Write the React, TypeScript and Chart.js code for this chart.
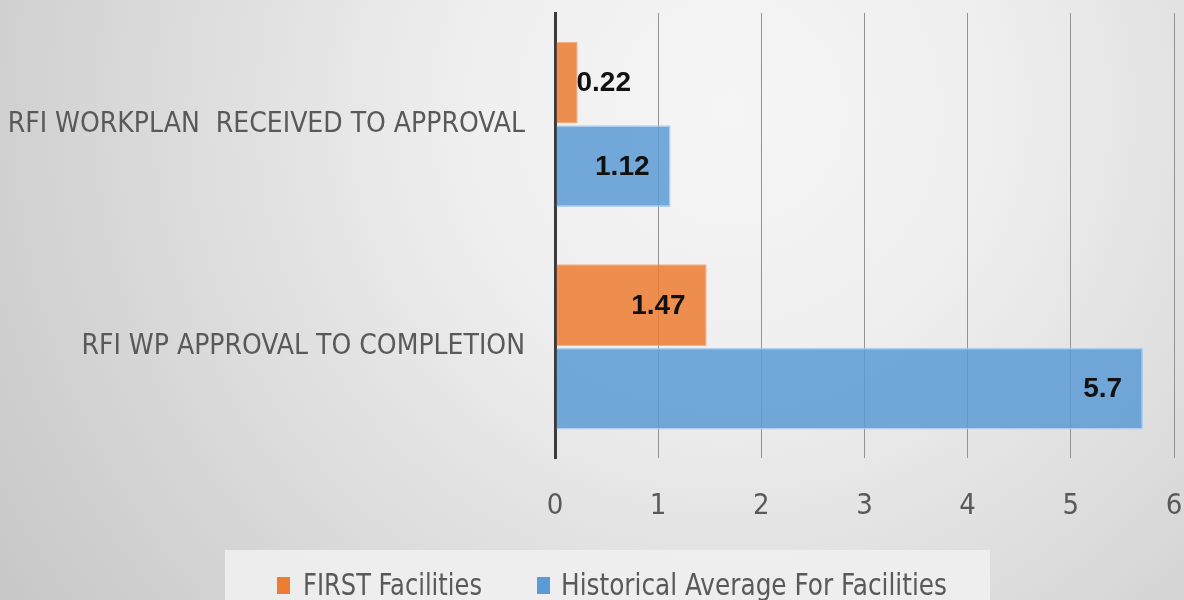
import React, { useEffect, useRef } from "react";
import { Chart, registerables } from "chart.js";

Chart.register(...registerables);

const categories = ["RFI WORKPLAN  RECEIVED TO APPROVAL", "RFI WP APPROVAL TO COMPLETION"];
const firstFacilities = [0.22, 1.47];
const historicalAverage = [1.12, 5.7];
const seriesNames = ["FIRST Facilities", "Historical Average For Facilities"];
const xTicks = [0, 1, 2, 3, 4, 5, 6];

const NARROW = "'Liberation Sans Narrow', 'DejaVu Sans Condensed', sans-serif";

const bgPlugin = {
  id: "bgGrad",
  beforeDraw(chart: any) {
    const { ctx, width, height } = chart;
    ctx.save();
    const g = ctx.createRadialGradient(730, 110, 0, 730, 110, 860);
    g.addColorStop(0, "#f5f5f5");
    g.addColorStop(0.3, "#efefef");
    g.addColorStop(1, "#c8c8c8");
    ctx.fillStyle = g;
    ctx.fillRect(0, 0, width, height);
    ctx.restore();
  },
};

const labelPlugin = {
  id: "barLabels",
  afterDatasetsDraw(chart: any) {
    const { ctx } = chart;
    ctx.save();
    ctx.font = "bold 28px 'Liberation Sans', Arial, sans-serif";
    ctx.fillStyle = "#111111";
    ctx.textBaseline = "middle";
    chart.data.datasets.forEach((ds: any, di: number) => {
      const meta = chart.getDatasetMeta(di);
      meta.data.forEach((el: any, i: number) => {
        const txt = String(ds.data[i]);
        const w = ctx.measureText(txt).width;
        const right = el.x - 21;
        let left = right - w;
        if (left < el.base + 20) left = el.base + 20;
        ctx.textAlign = "left";
        ctx.fillText(txt, left, el.y + 1);
      });
    });
    ctx.restore();
  },
};

const legendPlugin = {
  id: "customLegend",
  afterDraw(chart: any) {
    const { ctx } = chart;
    ctx.save();
    ctx.fillStyle = "rgba(240,240,240,0.9)";
    ctx.fillRect(225, 550, 765, 60);
    const markers = [277, 537];
    const texts = [303, 561];
    const targetW = [179, 386];
    chart.data.datasets.forEach((ds: any, di: number) => {
      ctx.fillStyle = ds.legendColor;
      ctx.fillRect(markers[di], 577, 13, 17);
      ctx.fillStyle = "#595959";
      ctx.font = `30px ${NARROW}`;
      ctx.textBaseline = "alphabetic";
      ctx.textAlign = "left";
      const w = ctx.measureText(ds.label).width;
      ctx.save();
      ctx.translate(texts[di], 595);
      ctx.scale(targetW[di] / w, 1);
      ctx.fillText(ds.label, 0, 0);
      ctx.restore();
    });
    ctx.restore();
  },
};

export default function App() {
  const ref = useRef<HTMLCanvasElement | null>(null);
  useEffect(() => {
    document.body.style.margin = "0";
    if (!ref.current) return;
    const chart = new Chart(ref.current, {
      type: "bar",
      data: {
        labels: categories,
        datasets: [
          {
            label: seriesNames[0],
            data: firstFacilities,
            backgroundColor: "rgba(237,125,49,0.85)",
            borderColor: "rgba(245,160,110,0.8)",
            borderWidth: 1,
            categoryPercentage: 0.75,
            barPercentage: 0.98,
            legendColor: "#ED7D31",
          } as any,
          {
            label: seriesNames[1],
            data: historicalAverage,
            backgroundColor: "rgba(91,155,213,0.85)",
            borderColor: "rgba(170,205,238,0.9)",
            borderWidth: 1.5,
            categoryPercentage: 0.75,
            barPercentage: 0.98,
            legendColor: "#5B9BD5",
          } as any,
        ],
      },
      options: {
        indexAxis: "y",
        responsive: false,
        animation: false,
        layout: { padding: { top: 13, right: 10, bottom: 45, left: 0 } },
        plugins: {
          legend: { display: false },
          tooltip: { enabled: false },
        },
        scales: {
          x: {
            type: "linear",
            min: 0,
            max: 6,
            afterBuildTicks(scale: any) {
              scale.ticks = xTicks.map((v) => ({ value: v }));
            },
            afterFit(scale: any) {
              scale.paddingLeft = 0;
              scale.paddingRight = 0;
            },
            ticks: {
              stepSize: 1,
              padding: 31,
              color: "#595959",
              font: { family: NARROW, size: 29 },
            },
            grid: {
              drawTicks: false,
              color: (c: any) => (c.tick && c.tick.value === 0 ? "#3a3a3a" : "#939393"),
              lineWidth: (c: any) => (c.tick && c.tick.value === 0 ? 3 : 1),
            },
            border: { display: false },
          },
          y: {
            type: "category",
            afterFit(scale: any) {
              scale.width = 555;
              scale.paddingTop = 0;
              scale.paddingBottom = 0;
            },
            ticks: {
              padding: 30,
              color: "#595959",
              font: { family: NARROW, size: 28 },
            },
            grid: { display: false, drawTicks: false },
            border: { display: true, color: "#3a3a3a", width: 3 },
          },
        },
      } as any,
      plugins: [bgPlugin, labelPlugin, legendPlugin],
    });
    return () => chart.destroy();
  }, []);
  return (
    <div style={{ width: 1184, height: 600 }}>
      <canvas ref={ref} width={1184} height={600} style={{ width: 1184, height: 600, display: "block" }} />
    </div>
  );
}
